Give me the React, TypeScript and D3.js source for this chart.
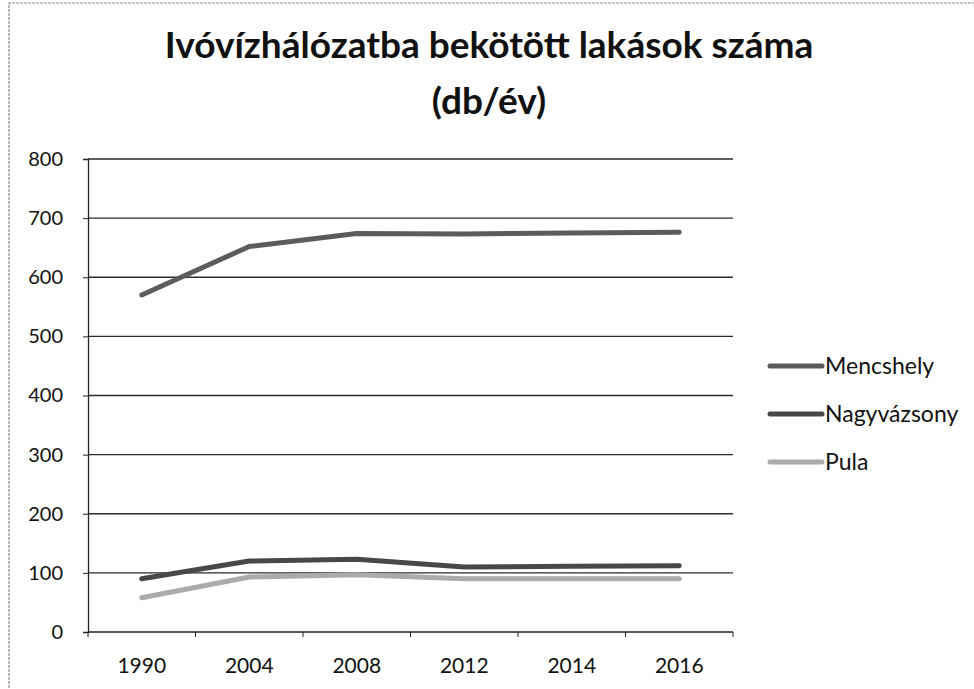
import * as d3 from 'd3'
import React, { useRef, useEffect } from 'react'

// chart values
const years = ['1990', '2004', '2008', '2012', '2014', '2016']
const mencshely = [570, 652, 674, 673, 675, 676]
const nagyvazsony = [90, 120, 123, 110, 111, 112]
const pula = [58, 93, 97, 90, 90, 90]
const seriesNames = ['Mencshely', 'Nagyvázsony', 'Pula']
const seriesColors = ['#5c5c5c', '#484848', '#ababab']
const yTicks = [0, 100, 200, 300, 400, 500, 600, 700, 800]

export default function App() {
    const svgRef = useRef<SVGSVGElement>(null)

    useEffect(() => {
        const w = 974
        const h = 689
        const svg = d3.select(svgRef.current)
        svg.selectAll('*').remove()
        svg.attr('width', w).attr('height', h)

        const font = 'Lato, "Open Sans", sans-serif'

        // outer frame (only left + top are visible on the scan)
        svg.append('path')
            .attr('d', 'M9,700 L9,3 L980,3')
            .attr('fill', 'none')
            .attr('stroke', '#8a8a8a')
            .attr('stroke-width', 1.2)
            .attr('stroke-dasharray', '3,1')

        // title
        const title = svg.append('text')
            .attr('text-anchor', 'middle')
            .attr('font-family', font)
            .attr('font-weight', 'bold')
            .attr('font-size', 37)
            .attr('fill', '#111')
        title.append('tspan').attr('x', 489).attr('y', 58).text('Ivóvízhálózatba bekötött lakások száma')
        title.append('tspan').attr('x', 489).attr('y', 114).text('(db/év)')

        // scales
        const x = d3.scaleBand().domain(years).range([88, 733]).padding(0)
        const y = d3.scaleLinear().domain([0, 800]).range([632, 159])
        const cx = (d: string) => (x(d) as number) + x.bandwidth() / 2

        // gridlines
        svg.append('g')
            .selectAll('line')
            .data(yTicks.filter(t => t > 0))
            .join('line')
            .attr('x1', 88).attr('x2', 733)
            .attr('y1', d => y(d)).attr('y2', d => y(d))
            .attr('stroke', '#2a2a2a')
            .attr('stroke-width', 1.3)

        // y axis
        const yAxis = svg.append('g')
            .attr('transform', 'translate(88,0)')
            .call(d3.axisLeft(y).tickValues(yTicks).tickSize(5).tickPadding(20))
        yAxis.select('.domain').attr('stroke', '#222').attr('stroke-width', 1.3)
        yAxis.selectAll('line').attr('stroke', '#222')
        yAxis.selectAll('text')
            .attr('font-family', font)
            .attr('font-size', 20)
            .attr('fill', '#111')

        // x axis, ticks on the band edges
        svg.append('line')
            .attr('x1', 88).attr('x2', 733)
            .attr('y1', y(0)).attr('y2', y(0))
            .attr('stroke', '#222').attr('stroke-width', 1.3)
        svg.append('g')
            .selectAll('line')
            .data(years.map(d => x(d) as number).concat([733]))
            .join('line')
            .attr('x1', d => d).attr('x2', d => d)
            .attr('y1', y(0)).attr('y2', y(0) + 5)
            .attr('stroke', '#222')
        svg.append('g')
            .selectAll('text')
            .data(years)
            .join('text')
            .attr('x', d => cx(d))
            .attr('y', 673)
            .attr('text-anchor', 'middle')
            .attr('font-family', font)
            .attr('font-size', 21)
            .attr('fill', '#111')
            .text(d => d)

        // lines
        const allSeries = [mencshely, nagyvazsony, pula]
        const lineGen = d3.line<number>()
            .x((d, i) => cx(years[i]))
            .y(d => y(d))
        svg.append('g')
            .selectAll('path')
            .data(allSeries)
            .join('path')
            .attr('d', d => lineGen(d))
            .attr('fill', 'none')
            .attr('stroke', (d, i) => seriesColors[i])
            .attr('stroke-width', 5)
            .attr('stroke-linecap', 'round')
            .attr('stroke-linejoin', 'round')

        // legend
        const legend = svg.append('g')
            .selectAll('g')
            .data(seriesNames)
            .join('g')
            .attr('transform', (d, i) => `translate(770,${366 + i * 48})`)
        legend.append('line')
            .attr('x1', 0).attr('x2', 52)
            .attr('stroke', (d, i) => seriesColors[i])
            .attr('stroke-width', 5)
            .attr('stroke-linecap', 'round')
        legend.append('text')
            .attr('x', 55)
            .attr('dy', '0.35em')
            .attr('font-family', font)
            .attr('font-size', 23)
            .attr('fill', '#111')
            .text(d => d)
    }, [])

    return (
        <div style={{ position: 'absolute', left: 0, top: 0 }}>
            <svg ref={svgRef} style={{ display: 'block', background: '#fff' }}></svg>
        </div>
    )
}
